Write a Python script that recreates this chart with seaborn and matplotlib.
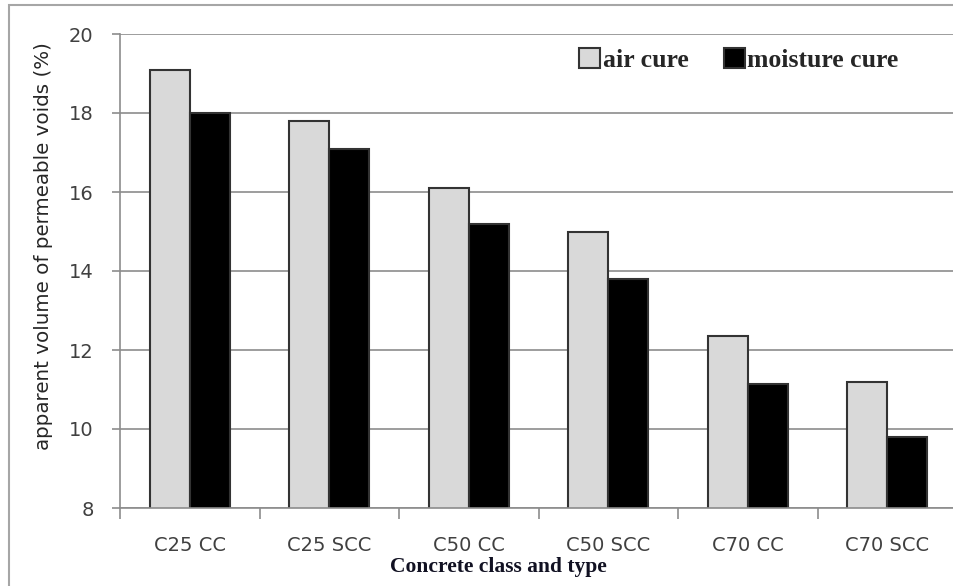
import numpy as np
import pandas as pd
import seaborn as sns
import matplotlib
matplotlib.use('Agg')
import matplotlib.pyplot as plt
from matplotlib.patches import Rectangle
from matplotlib.ticker import FixedLocator

# Data
categories = ["C25 CC", "C25 SCC", "C50 CC", "C50 SCC", "C70 CC", "C70 SCC"]
air_cure = [19.1, 17.8, 16.1, 15.0, 12.35, 11.2]
moisture_cure = [18.0, 17.1, 15.2, 13.8, 11.15, 9.8]
series_names = ["air cure", "moisture cure"]
y_ticks = [8, 10, 12, 14, 16, 18, 20]

df = pd.DataFrame({
    "category": categories * 2,
    "value": air_cure + moisture_cure,
    "series": [series_names[0]] * len(categories) + [series_names[1]] * len(categories),
})

sns.set_theme(style="white")
plt.rcParams['font.family'] = ['DejaVu Sans']

fig = plt.figure(figsize=(9.54, 5.86), dpi=100)
ax = fig.add_axes([120 / 954, 1 - 508 / 586, 837 / 954, 474 / 586])

sns.barplot(
    data=df, x="category", y="value", hue="series",
    palette=["#d9d9d9", "#000000"], width=0.57,
    edgecolor="#333333", linewidth=1.5, ax=ax, legend=True,
)

ax.set_ylim(8, 20)
ax.set_xlim(-0.5, len(categories) - 0.5)
ax.set_yticks(y_ticks)
ax.yaxis.grid(True, color="#8c8c8c", linewidth=1.2)
ax.set_axisbelow(True)

for side in ["top", "right"]:
    ax.spines[side].set_visible(False)
for side in ["left", "bottom"]:
    ax.spines[side].set_color("#8c8c8c")
    ax.spines[side].set_linewidth(1.2)

ax.tick_params(axis="y", length=6, width=1.2, color="#8c8c8c", pad=13,
               labelsize=14, labelcolor="#404040", left=True)
ax.tick_params(axis="x", which="major", length=0, pad=20,
               labelsize=14, labelcolor="#404040")
ax.xaxis.set_minor_locator(FixedLocator(np.arange(-0.5, len(categories), 1.0)))
ax.tick_params(axis="x", which="minor", length=8, width=1.2, color="#8c8c8c", bottom=True)

ax.set_ylabel("apparent volume of permeable voids (%)", fontsize=14.3,
              color="#262626")
ax.yaxis.set_label_coords(-0.080, 0.553)
ax.set_xlabel("Concrete class and type", fontsize=15.5, fontweight="bold",
              family="Liberation Serif", color="#111122")
ax.xaxis.set_label_coords(0.452, -0.103)

handles, labels = ax.get_legend_handles_labels()
ax.legend(handles, labels, loc="center right", bbox_to_anchor=(0.958, 0.945),
          ncol=2, frameon=False, handlelength=0.8, handleheight=0.8,
          handletextpad=0.1, columnspacing=1.4,
          prop={"family": "Liberation Serif", "weight": "bold", "size": 18.5})

# light grey frame of the original screenshot (left and top edges visible)
fig.add_artist(Rectangle((9 / 954, -0.05), 1.2, 1.05 - 5 / 586,
                         transform=fig.transFigure, fill=False,
                         edgecolor="#a6a6a6", linewidth=1.5))

fig.savefig("out.png", dpi=100)
